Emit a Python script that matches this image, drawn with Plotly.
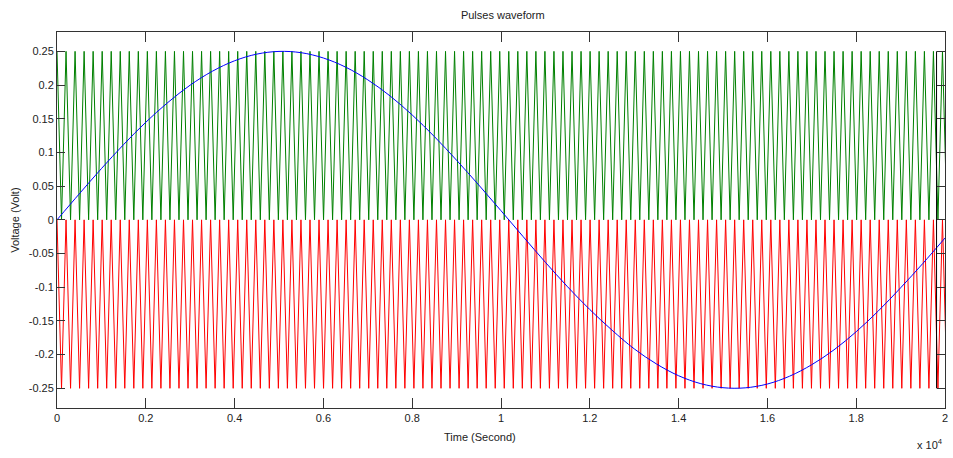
import plotly.graph_objects as go

# ---- data ----
# modulating sine (Volt) read every 500 s from 0 to 20000
sine_t = [i * 500 for i in range(41)]
sine_v = [0.0, 0.0384, 0.0760, 0.1117, 0.1448, 0.1743, 0.1999, 0.2205, 0.2360, 0.2459,
          0.2499, 0.2480, 0.2401, 0.2266, 0.2077, 0.1839, 0.1556, 0.1235, 0.0884, 0.0516,
          0.0135, -0.0250, -0.0630, -0.0994, -0.1331, -0.1637, -0.1914, -0.2138, -0.2313, -0.2431,
          -0.2491, -0.2493, -0.2436, -0.2320, -0.2149, -0.1929, -0.1660, -0.1351, -0.1009, -0.0648,
          -0.0270]

# triangular carriers: one period shape (peak, trough), period
carrier_period = 203.5
carrier_half_cycles = 200
green_levels = [0.25, 0.0]
red_levels = [0.0, -0.25]

# black edge line near the right border
edge_x = [19810, 19810]
edge_y = [0.25, -0.25]

y_ticks = [-0.25, -0.2, -0.15, -0.1, -0.05, 0, 0.05, 0.1, 0.15, 0.2, 0.25]
y_tick_text = ["-0.25", "-0.2", "-0.15", "-0.1", "-0.05", "0", "0.05", "0.1", "0.15", "0.2", "0.25"]
x_ticks = [0, 2000, 4000, 6000, 8000, 10000, 12000, 14000, 16000, 18000, 20000]
x_tick_text = ["0", "0.2", "0.4", "0.6", "0.8", "1", "1.2", "1.4", "1.6", "1.8", "2"]

# ---- build carrier vertices ----
car_t = [k * carrier_period / 2 for k in range(carrier_half_cycles + 1)]
green_v = [green_levels[k % 2] for k in range(carrier_half_cycles + 1)]
red_v = [red_levels[k % 2] for k in range(carrier_half_cycles + 1)]

FONT = "Liberation Sans, Arial, sans-serif"
TXT = "#222222"

fig = go.Figure()
fig.add_trace(go.Scatter(x=car_t, y=green_v, mode="lines",
                         line=dict(color="rgb(0,128,0)", width=1), hoverinfo="skip"))
fig.add_trace(go.Scatter(x=car_t, y=red_v, mode="lines",
                         line=dict(color="rgb(255,0,0)", width=1), hoverinfo="skip"))
fig.add_trace(go.Scatter(x=sine_t, y=sine_v, mode="lines",
                         line=dict(color="rgb(0,0,255)", width=1, shape="spline"), hoverinfo="skip"))
fig.add_trace(go.Scatter(x=edge_x, y=edge_y, mode="lines",
                         line=dict(color="black", width=1), hoverinfo="skip"))

fig.update_layout(
    width=953, height=458,
    margin=dict(l=57, r=5, t=32, b=50),
    paper_bgcolor="white", plot_bgcolor="white",
    showlegend=False,
    font=dict(family=FONT, size=11, color=TXT),
    title=dict(text="Pulses waveform", x=502.8 / 953, xanchor="center",
               y=1 - 15 / 458, yanchor="middle",
               font=dict(family=FONT, size=11, color=TXT)),
)
fig.update_xaxes(range=[0, 20000], tickmode="array", tickvals=x_ticks, ticktext=x_tick_text,
                 ticks="inside", ticklen=10, tickwidth=1, tickcolor="#333333",
                 showline=True, linecolor="#333333", linewidth=1, mirror="ticks",
                 showgrid=False, zeroline=False, tickfont=dict(family=FONT, size=11, color=TXT))
fig.update_yaxes(range=[-0.2792, 0.2787], tickmode="array", tickvals=y_ticks, ticktext=y_tick_text,
                 ticks="inside", ticklen=8, tickwidth=1, tickcolor="#333333",
                 showline=True, linecolor="#333333", linewidth=1, mirror="ticks",
                 showgrid=False, zeroline=False, tickfont=dict(family=FONT, size=11, color=TXT))

fig.add_annotation(text="Time (Second)", xref="paper", yref="paper",
                   x=(482 - 57.3) / 891, y=-(437 - 408.3) / 376.6, xanchor="center", yanchor="middle",
                   showarrow=False, font=dict(family=FONT, size=11, color=TXT))
fig.add_annotation(text="Voltage (Volt)", xref="paper", yref="paper", textangle=-90,
                   x=(15 - 57.3) / 891, y=0.5, xanchor="center", yanchor="middle",
                   showarrow=False, font=dict(family=FONT, size=11, color=TXT))
fig.add_annotation(text="x 10<sup>4</sup>", xref="paper", yref="paper",
                   x=1.0, y=-(444 - 408.3) / 376.6, xanchor="right", yanchor="middle",
                   showarrow=False, font=dict(family=FONT, size=11, color=TXT))

fig.write_html("out.html")
